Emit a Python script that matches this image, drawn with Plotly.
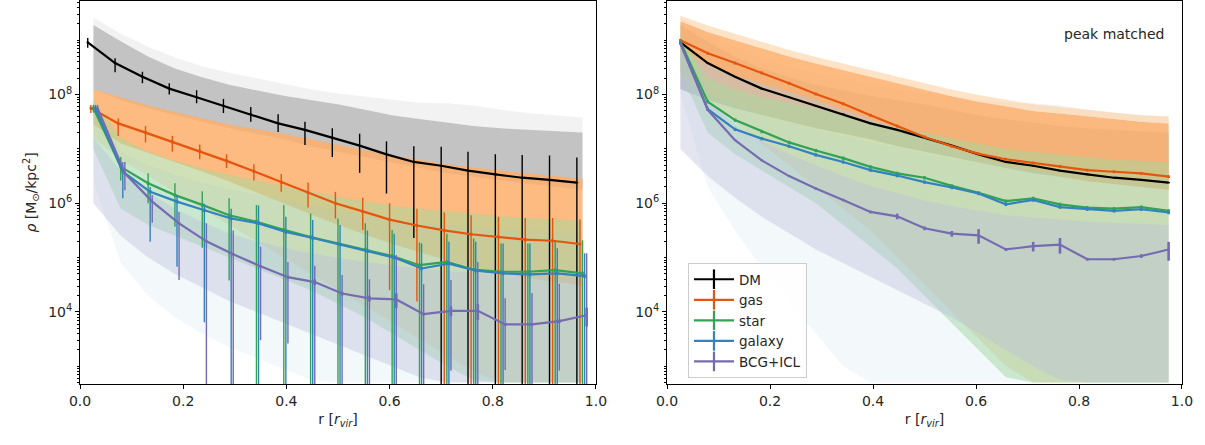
import plotly.graph_objects as go

# ---------------- data (log10 of surface density) ----------------
r_bins = [0.026, 0.079, 0.132, 0.184, 0.237, 0.289, 0.342, 0.395, 0.447, 0.500,
          0.553, 0.605, 0.658, 0.711, 0.763, 0.816, 0.868, 0.921, 0.974]
components = ["DM", "gas", "star", "galaxy", "BCG+ICL"]

# mean profiles, left panel
dm_mean = [8.96, 8.58, 8.33, 8.11, 7.95, 7.79, 7.64, 7.47, 7.35, 7.21, 7.06, 6.90, 6.76, 6.69, 6.60, 6.53, 6.47, 6.43, 6.38]
gas_mean_l = [7.75, 7.47, 7.30, 7.13, 6.96, 6.78, 6.59, 6.39, 6.20, 6.00, 5.85, 5.70, 5.59, 5.50, 5.43, 5.38, 5.33, 5.31, 5.25]
star_mean_l = [7.75, 6.67, 6.37, 6.15, 5.97, 5.78, 5.66, 5.51, 5.38, 5.26, 5.15, 5.03, 4.86, 4.92, 4.78, 4.74, 4.74, 4.77, 4.71]
gal_mean_l = [7.75, 6.58, 6.21, 6.03, 5.87, 5.72, 5.63, 5.47, 5.36, 5.24, 5.12, 5.00, 4.80, 4.89, 4.76, 4.71, 4.69, 4.71, 4.66]
bcg_mean_l = [7.75, 6.55, 6.03, 5.63, 5.30, 5.06, 4.84, 4.64, 4.55, 4.34, 4.25, 4.23, 3.96, 4.02, 4.02, 3.77, 3.77, 3.83, 3.94]

# mean profiles, right panel (peak matched)
gas_mean_r = [9.00, 8.76, 8.58, 8.40, 8.21, 8.01, 7.83, 7.62, 7.42, 7.22, 7.05, 6.91, 6.81, 6.74, 6.68, 6.61, 6.58, 6.55, 6.49]
star_mean_r = [8.97, 7.87, 7.53, 7.32, 7.12, 6.97, 6.83, 6.67, 6.55, 6.47, 6.32, 6.19, 6.04, 6.09, 5.98, 5.92, 5.90, 5.93, 5.86]
gal_mean_r = [8.95, 7.73, 7.36, 7.19, 7.05, 6.89, 6.76, 6.61, 6.51, 6.39, 6.29, 6.18, 5.98, 6.06, 5.93, 5.89, 5.86, 5.89, 5.83]
bcg_mean_r = [8.94, 7.72, 7.16, 6.79, 6.50, 6.27, 6.06, 5.84, 5.76, 5.54, 5.44, 5.41, 5.15, 5.21, 5.24, 4.97, 4.97, 5.03, 5.15]

# scatter bars on the left panel (dex above / below the mean; 9 = runs off the bottom)
dm_up = [0.08, 0.09, 0.09, 0.10, 0.13, 0.13, 0.13, 0.17, 0.15, 0.17, 0.22, 0.24, 0.29, 0.35, 0.35, 0.37, 0.42, 0.45, 0.46]
dm_dn = [0.10, 0.17, 0.12, 0.11, 0.11, 0.13, 0.14, 0.16, 0.28, 0.36, 0.50, 0.72, 1.40, 9, 9, 9, 9, 9, 9]
gas_up = [0.06, 0.09, 0.12, 0.11, 0.12, 0.12, 0.13, 0.15, 0.18, 0.21, 0.25, 0.30, 0.31, 0.33, 0.35, 0.37, 0.40, 0.42, 0.45]
gas_dn = [0.09, 0.23, 0.18, 0.18, 0.15, 0.13, 0.17, 0.18, 0.28, 0.28, 0.34, 1.30, 1.40, 9, 9, 9, 9, 9, 9]
star_up = [0.06, 0.18, 0.18, 0.22, 0.25, 0.31, 0.31, 0.46, 0.43, 0.46, 0.48, 0.48, 0.42, 0.52, 0.57, 0.52, 0.52, 0.52, 0.61]
star_dn = [0.08, 0.25, 0.37, 0.58, 0.79, 1.20, 9, 9, 9, 9, 9, 9, 9, 9, 9, 9, 9, 9, 9]
gal_up = [0.06, 0.18, 0.09, 0.12, 0.12, 0.18, 0.33, 0.28, 0.33, 0.36, 0.38, 0.44, 0.46, 0.40, 0.53, 0.55, 0.57, 0.46, 0.42]
gal_dn = [0.08, 0.49, 0.92, 1.20, 2.06, 9, 9, 9, 9, 9, 9, 9, 9, 9, 9, 9, 9, 9, 9]
bcg_up = [0.06, 0.21, 0.12, 0.21, 0.33, 0.44, 0.36, 0.28, 0.30, 0.34, 0.35, 0.82, 0.55, 0.57, 0.90, 0.48, 0.58, 0.69, 1.14]
bcg_dn = [0.08, 0.31, 0.39, 1.04, 9, 9, 1.36, 1.22, 9, 9, 9, 9, 9, 1.10, 9, 0.84, 9, 0.91, 9]

# error on the mean (fraction of the mean), both panels
dm_sem = [0.03] * 19
gas_sem = [0.06] * 19
star_sem = [0.07] * 19
gal_sem = [0.07] * 19
bcg_sem = [0.03, 0.03, 0.03, 0.04, 0.04, 0.05, 0.05, 0.06, 0.12, 0.08, 0.12, 0.30, 0.06, 0.20, 0.32, 0.06, 0.06, 0.08, 0.38]

# envelopes of the individual profiles (log10), left panel
dm_top = [9.42, 9.12, 8.88, 8.68, 8.52, 8.40, 8.30, 8.20, 8.10, 8.02, 7.96, 7.90, 7.85, 7.84, 7.80, 7.72, 7.66, 7.62, 7.58]
dm_hi = [9.28, 8.98, 8.70, 8.48, 8.32, 8.18, 8.08, 7.98, 7.90, 7.82, 7.72, 7.62, 7.55, 7.48, 7.42, 7.38, 7.35, 7.32, 7.30]
dm_lo = [8.10, 7.90, 7.75, 7.62, 7.50, 7.38, 7.28, 7.18, 7.05, 6.95, 6.85, 6.75, 6.65, 6.55, 6.48, 6.42, 6.36, 6.30, 6.25]
gas_hi_l = [8.10, 7.95, 7.80, 7.68, 7.56, 7.45, 7.36, 7.28, 7.18, 7.08, 6.98, 6.88, 6.80, 6.72, 6.66, 6.60, 6.55, 6.50, 6.45]
gas_lo_l = [7.45, 7.10, 6.92, 6.75, 6.58, 6.40, 6.20, 6.00, 5.80, 5.60, 5.42, 5.25, 5.10, 4.95, 4.82, 4.72, 4.62, 4.55, 4.48]
gas_bot_l = [7.20, 6.80, 6.50, 6.20, 5.90, 5.60, 5.30, 5.00, 4.70, 4.40, 4.10, 3.80, 3.50, 3.20, 2.90, 2.70, 2.70, 2.70, 2.70]
star_hi_l = [7.90, 7.20, 6.95, 6.78, 6.64, 6.52, 6.42, 6.32, 6.22, 6.12, 6.04, 5.96, 5.90, 5.85, 5.80, 5.76, 5.73, 5.70, 5.68]
star_lo_l = [7.00, 5.90, 5.60, 5.40, 5.20, 5.00, 4.80, 4.60, 4.40, 4.15, 3.90, 3.60, 3.30, 3.00, 2.75, 2.70, 2.70, 2.70, 2.70]
gal_hi_l = [7.85, 6.95, 6.70, 6.52, 6.38, 6.26, 6.16, 6.06, 5.96, 5.86, 5.78, 5.70, 5.64, 5.60, 5.55, 5.52, 5.50, 5.48, 5.46]
gal_lo_l = [6.40, 4.90, 4.30, 3.90, 3.60, 3.35, 3.15, 2.95, 2.75, 2.70, 2.70, 2.70, 2.70, 2.70, 2.70, 2.70, 2.70, 2.70, 2.70]
bcg_hi_l = [7.20, 6.60, 6.20, 5.90, 5.65, 5.45, 5.30, 5.18, 5.08, 5.00, 4.92, 4.86, 4.80, 4.76, 4.72, 4.68, 4.66, 4.64, 4.62]
bcg_lo_l = [6.00, 5.40, 5.00, 4.70, 4.45, 4.20, 4.00, 3.80, 3.60, 3.40, 3.20, 3.00, 2.80, 2.70, 2.70, 2.70, 2.70, 2.70, 2.70]

# envelopes, right panel
gas_top_r = [9.45, 9.27, 9.12, 8.97, 8.82, 8.69, 8.57, 8.44, 8.32, 8.20, 8.09, 7.99, 7.90, 7.82, 7.77, 7.72, 7.67, 7.62, 7.60]
gas_hi_r = [9.35, 9.15, 9.00, 8.85, 8.70, 8.57, 8.45, 8.32, 8.20, 8.08, 7.97, 7.87, 7.78, 7.70, 7.65, 7.60, 7.55, 7.50, 7.47]
gas_lo_r = [8.85, 8.55, 8.35, 8.20, 8.05, 7.90, 7.72, 7.55, 7.38, 7.20, 7.00, 6.85, 6.70, 6.60, 6.50, 6.40, 6.35, 6.30, 6.25]
gas_bot_r = [8.40, 7.90, 7.50, 7.10, 6.70, 6.30, 5.90, 5.50, 5.00, 4.50, 4.00, 3.50, 3.00, 2.70, 2.70, 2.70, 2.70, 2.70, 2.70]
star_hi_r = [9.10, 8.30, 8.10, 7.95, 7.85, 7.75, 7.62, 7.50, 7.40, 7.30, 7.20, 7.10, 7.00, 6.95, 6.90, 6.85, 6.80, 6.78, 6.75]
star_lo_r = [8.40, 7.30, 6.90, 6.60, 6.30, 6.00, 5.60, 5.20, 4.80, 4.30, 3.80, 3.30, 2.80, 2.70, 2.70, 2.70, 2.70, 2.70, 2.70]
gal_hi_r = [9.05, 8.05, 7.80, 7.62, 7.48, 7.36, 7.24, 7.12, 7.02, 6.92, 6.82, 6.74, 6.66, 6.61, 6.56, 6.52, 6.48, 6.46, 6.44]
gal_lo_r = [8.00, 6.30, 5.50, 4.80, 4.20, 3.60, 3.00, 2.70, 2.70, 2.70, 2.70, 2.70, 2.70, 2.70, 2.70, 2.70, 2.70, 2.70, 2.70]
bcg_hi_r = [8.90, 7.90, 7.45, 7.15, 6.90, 6.70, 6.50, 6.32, 6.18, 6.05, 5.95, 5.86, 5.78, 5.74, 5.70, 5.66, 5.64, 5.62, 5.60]
bcg_lo_r = [7.00, 6.50, 6.10, 5.75, 5.45, 5.15, 4.90, 4.65, 4.40, 4.15, 3.90, 3.60, 3.30, 3.00, 2.75, 2.70, 2.70, 2.70, 2.70]

# ---------------- styling ----------------
line_colors = {"DM": "#000000", "gas": "#e6550d", "star": "#31a354", "galaxy": "#3182bd", "BCG+ICL": "#756bb1"}
dodge = {"DM": -0.011, "gas": -0.005, "star": 0.0, "galaxy": 0.004, "BCG+ICL": 0.008}
FONT = "DejaVu Sans"
TXT = "#262626"


def rgba(hexc, a):
    h = hexc.lstrip("#")
    return "rgba(%d,%d,%d,%.3f)" % (int(h[0:2], 16), int(h[2:4], 16), int(h[4:6], 16), a)


fig = go.Figure()


def band(xs, lo, hi, color, alpha, ax):
    xx = list(xs) + list(xs)[::-1]
    yy = [10 ** v for v in hi] + [10 ** v for v in lo][::-1]
    fig.add_trace(go.Scatter(x=xx, y=yy, fill="toself", fillcolor=rgba(color, alpha), mode="lines",
                             line=dict(width=0), hoverinfo="skip", showlegend=False,
                             xaxis="x" + ax, yaxis="y" + ax))


def series(xs, mean, sem, color, ax, up=None, dn=None):
    y = [10 ** m for m in mean]
    if up is not None:
        plus = [10 ** (m + u) - 10 ** m for m, u in zip(mean, up)]
        minus = [10 ** m - 10 ** (m - d) for m, d in zip(mean, dn)]
        fig.add_trace(go.Scatter(x=xs, y=y, mode="markers", marker=dict(size=0.1, color="rgba(0,0,0,0)"),
                                 error_y=dict(type="data", symmetric=False, array=plus, arrayminus=minus,
                                              thickness=1.4, width=0, color=color),
                                 showlegend=False, hoverinfo="skip", xaxis="x" + ax, yaxis="y" + ax))
    fig.add_trace(go.Scatter(x=xs, y=y, mode="lines", line=dict(color=color, width=2.2),
                             error_y=dict(type="data", array=[v * s for v, s in zip(y, sem)],
                                          thickness=2.6, width=0, color=color),
                             showlegend=False, xaxis="x" + ax, yaxis="y" + ax))


# ---- left panel ----
band(r_bins, dm_hi, dm_top, "#d9d9d9", 0.35, "")
band(r_bins, dm_lo, dm_hi, "#bdbdbd", 0.9, "")
band(r_bins, gas_bot_l, gas_lo_l, "#fdae6b", 0.30, "")
band(r_bins, gas_lo_l, gas_hi_l, "#fdae6b", 0.85, "")
band(r_bins, star_lo_l, star_hi_l, "#a1d99b", 0.50, "")
band(r_bins, gal_lo_l, gal_hi_l, "#9ecae1", 0.12, "")
band(r_bins, bcg_lo_l, bcg_hi_l, "#bcbddc", 0.40, "")

left_sets = [("DM", dm_mean, dm_up, dm_dn, dm_sem),
             ("gas", gas_mean_l, gas_up, gas_dn, gas_sem),
             ("star", star_mean_l, star_up, star_dn, star_sem),
             ("galaxy", gal_mean_l, gal_up, gal_dn, gal_sem),
             ("BCG+ICL", bcg_mean_l, bcg_up, bcg_dn, bcg_sem)]
for name, mean, up, dn, sem in left_sets:
    xs = [r + dodge[name] for r in r_bins]
    series(xs, mean, sem, line_colors[name], "", up, dn)

# ---- right panel ----
band(r_bins, dm_hi, dm_top, "#d9d9d9", 0.35, "2")
band(r_bins, dm_lo, dm_hi, "#bdbdbd", 0.9, "2")
band(r_bins, gas_bot_r, gas_lo_r, "#fdae6b", 0.35, "2")
band(r_bins, gas_lo_r, gas_hi_r, "#fdae6b", 0.85, "2")
band(r_bins, gas_hi_r, gas_top_r, "#fdd0a2", 0.6, "2")
band(r_bins, star_lo_r, star_hi_r, "#a1d99b", 0.50, "2")
band(r_bins, gal_lo_r, gal_hi_r, "#9ecae1", 0.12, "2")
band(r_bins, bcg_lo_r, bcg_hi_r, "#bcbddc", 0.40, "2")

right_sets = [("DM", dm_mean, dm_sem), ("gas", gas_mean_r, gas_sem), ("star", star_mean_r, star_sem),
              ("galaxy", gal_mean_r, gal_sem), ("BCG+ICL", bcg_mean_r, bcg_sem)]
for name, mean, sem in right_sets:
    series(r_bins, mean, sem, line_colors[name], "2")

# legend entries ("+" handles)
for name in components:
    fig.add_trace(go.Scatter(x=[None], y=[None], mode="lines+markers", name=name,
                             line=dict(color=line_colors[name], width=2.2),
                             marker=dict(symbol="line-ns", size=14, line=dict(width=2.2, color=line_colors[name])),
                             xaxis="x2", yaxis="y2", showlegend=True))

# ---------------- axes ----------------
majors = [1e4, 1e6, 1e8]
major_text = ["10<sup>4</sup>", "10<sup>6</sup>", "10<sup>8</sup>"]
minors = [k * 10 ** n for n in range(2, 10) for k in range(1, 10) if k * 10 ** n not in majors]

ycommon = dict(type="log", range=[2.674, 9.722], tickmode="array", tickvals=majors, ticktext=major_text,
               ticks="outside", ticklen=4, tickwidth=1, tickcolor="black",
               minor=dict(tickmode="array", tickvals=minors, ticks="outside", ticklen=2, tickwidth=0.8, tickcolor="black"),
               showline=True, mirror=True, linecolor="black", linewidth=1, showgrid=False, zeroline=False,
               tickfont=dict(family=FONT, size=14, color=TXT))
xcommon = dict(range=[0, 1], tickmode="array", tickvals=[0, 0.2, 0.4, 0.6, 0.8, 1.0],
               ticktext=["0.0", "0.2", "0.4", "0.6", "0.8", "1.0"], ticks="outside", ticklen=4, tickwidth=1,
               tickcolor="black", showline=True, mirror=True, linecolor="black", linewidth=1,
               showgrid=False, zeroline=False, tickfont=dict(family=FONT, size=14, color=TXT),
               title=dict(text="r [<i>r</i><sub><i>vir</i></sub>]", font=dict(family=FONT, size=14, color=TXT), standoff=6))

fig.update_layout(
    width=1205, height=445, margin=dict(l=80, r=23, t=1, b=61),
    paper_bgcolor="white", plot_bgcolor="white",
    xaxis=dict(domain=[0, 0.4682], anchor="y", **xcommon),
    xaxis2=dict(domain=[0.5327, 1.0], anchor="y2", **xcommon),
    yaxis=dict(domain=[0, 1], anchor="x",
               title=dict(text="<i>ρ</i> [M<sub>⊙</sub>/kpc<sup>2</sup>]", font=dict(family=FONT, size=14, color=TXT), standoff=8),
               **ycommon),
    yaxis2=dict(domain=[0, 1], anchor="x2", **ycommon),
    legend=dict(x=0.5517, y=0.0157, xanchor="left", yanchor="bottom", bgcolor="rgba(255,255,255,0.85)",
                bordercolor="#cccccc", borderwidth=1, font=dict(family=FONT, size=13.5, color=TXT),
                tracegroupgap=0, itemwidth=40),
    annotations=[dict(text="peak matched", xref="x2 domain", yref="y2 domain", x=0.969, y=0.914,
                      xanchor="right", yanchor="middle", showarrow=False,
                      font=dict(family=FONT, size=14, color=TXT))],
    showlegend=True,
)

fig.write_html("out.html", config={"displayModeBar": False},
               post_script="document.body.style.margin='0px';document.body.style.overflow='hidden';")
